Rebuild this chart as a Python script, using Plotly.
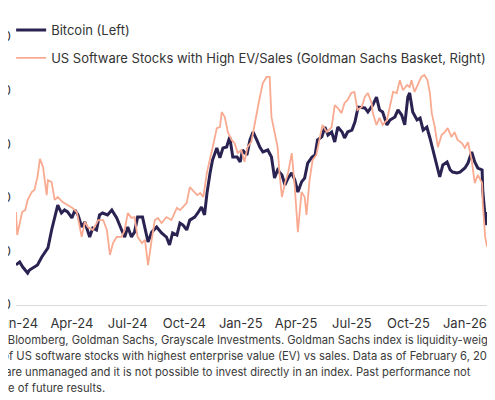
import plotly.graph_objects as go

# Bitcoin price (USD), left axis
btc_dates = [
    "2024-01-01", "2024-01-07", "2024-01-12", "2024-01-20", "2024-01-23", "2024-01-31",
    "2024-02-05", "2024-02-12", "2024-02-17", "2024-02-22", "2024-02-28", "2024-03-04",
    "2024-03-09", "2024-03-15", "2024-03-20", "2024-03-25", "2024-04-01", "2024-04-06",
    "2024-04-11", "2024-04-17", "2024-04-22", "2024-04-30", "2024-05-05", "2024-05-11",
    "2024-05-16", "2024-05-21", "2024-05-29", "2024-06-05", "2024-06-13", "2024-06-21",
    "2024-06-26", "2024-07-01", "2024-07-07", "2024-07-12", "2024-07-17", "2024-07-25",
    "2024-08-03", "2024-08-09", "2024-08-17", "2024-08-25", "2024-09-02", "2024-09-07",
    "2024-09-12", "2024-09-19", "2024-09-24", "2024-09-29", "2024-10-05", "2024-10-10",
    "2024-10-18", "2024-10-23", "2024-10-29", "2024-11-03", "2024-11-07", "2024-11-12",
    "2024-11-16", "2024-11-23", "2024-11-28", "2024-12-03", "2024-12-09", "2024-12-14",
    "2024-12-19", "2024-12-26", "2024-12-31", "2025-01-04", "2025-01-11", "2025-01-16",
    "2025-01-21", "2025-01-27", "2025-02-01", "2025-02-06", "2025-02-14", "2025-02-20",
    "2025-02-25", "2025-03-02", "2025-03-09", "2025-03-14", "2025-03-19", "2025-03-25",
    "2025-03-30", "2025-04-04", "2025-04-10", "2025-04-15", "2025-04-20", "2025-04-27",
    "2025-05-02", "2025-05-06", "2025-05-13", "2025-05-18", "2025-05-23", "2025-05-29",
    "2025-06-03", "2025-06-08", "2025-06-15", "2025-06-19", "2025-06-24", "2025-07-01",
    "2025-07-06", "2025-07-11", "2025-07-17", "2025-07-22", "2025-07-27", "2025-08-02",
    "2025-08-04", "2025-08-10", "2025-08-15", "2025-08-20", "2025-08-27", "2025-09-01",
    "2025-09-09", "2025-09-14", "2025-09-20", "2025-09-25", "2025-09-30", "2025-10-03",
    "2025-10-08", "2025-10-15", "2025-10-20", "2025-10-25", "2025-10-31", "2025-11-05",
    "2025-11-10", "2025-11-16", "2025-11-21", "2025-11-26", "2025-12-03", "2025-12-08",
    "2025-12-12", "2025-12-19", "2025-12-24", "2026-01-01", "2026-01-06", "2026-01-12",
    "2026-01-17", "2026-01-22", "2026-01-29", "2026-01-30", "2026-02-02", "2026-02-04",
    "2026-02-06",
]
btc_k = [
    43.7, 45.1, 42.7, 39.9, 41.3, 42.7, 43.7, 47.4, 49.7, 51.6, 60.0, 65.6,
    71.6, 67.9, 69.3, 68.4, 65.6, 69.3, 67.0, 61.4, 63.7, 56.7, 60.9, 60.0,
    67.0, 67.9, 67.0, 69.3, 65.6, 60.0, 56.7, 61.4, 56.7, 59.0, 66.0, 66.0,
    54.4, 59.0, 61.4, 58.6, 56.7, 53.0, 58.6, 57.6, 63.2, 62.3, 60.0, 64.6,
    66.0, 67.9, 70.7, 67.0, 77.2, 86.6, 92.6, 98.2, 93.6, 98.2, 98.7, 103.4,
    94.0, 94.0, 91.7, 97.3, 95.0, 102.0, 105.7, 102.0, 98.7, 96.4, 97.3, 94.0,
    84.2, 88.0, 85.6, 81.0, 84.2, 86.6, 83.3, 77.7, 82.4, 84.2, 91.2, 94.0,
    95.0, 102.0, 103.4, 108.0, 104.3, 105.7, 101.0, 108.0, 105.7, 102.9, 105.7, 106.6,
    110.4, 117.3, 116.9, 116.9, 115.0, 117.3, 118.3, 122.0, 116.0, 115.0, 109.0, 111.3,
    112.7, 116.0, 113.6, 109.0, 122.0, 123.9, 115.0, 111.3, 112.2, 106.6, 108.0, 102.9,
    97.3, 91.2, 84.7, 90.3, 91.7, 88.0, 87.0, 86.6, 87.0, 88.9, 91.2, 96.4,
    91.7, 88.9, 88.0, 78.6, 70.7, 62.3, 68.4,
]
btc = [v * 1000 for v in btc_k]

# Goldman Sachs high EV/Sales software basket, right axis
gs_dates = [
    "2024-01-01", "2024-01-03", "2024-01-11", "2024-01-16", "2024-01-20", "2024-01-27",
    "2024-01-31", "2024-02-05", "2024-02-09", "2024-02-14", "2024-02-20", "2024-02-22",
    "2024-02-28", "2024-03-04", "2024-03-09", "2024-03-17", "2024-03-25", "2024-04-02",
    "2024-04-09", "2024-04-17", "2024-04-22", "2024-04-27", "2024-05-05", "2024-05-14",
    "2024-05-22", "2024-05-28", "2024-06-02", "2024-06-07", "2024-06-13", "2024-06-21",
    "2024-06-26", "2024-07-01", "2024-07-07", "2024-07-12", "2024-07-17", "2024-07-24",
    "2024-07-29", "2024-08-03", "2024-08-09", "2024-08-14", "2024-08-19", "2024-08-25",
    "2024-09-02", "2024-09-10", "2024-09-19", "2024-09-24", "2024-09-29", "2024-10-05",
    "2024-10-10", "2024-10-15", "2024-10-22", "2024-10-27", "2024-11-01", "2024-11-07",
    "2024-11-12", "2024-11-16", "2024-11-23", "2024-11-28", "2024-12-01", "2024-12-06",
    "2024-12-11", "2024-12-17", "2024-12-22", "2024-12-27", "2025-01-02", "2025-01-07",
    "2025-01-12", "2025-01-18", "2025-01-21", "2025-01-27", "2025-02-01", "2025-02-06",
    "2025-02-12", "2025-02-17", "2025-02-20", "2025-02-25", "2025-03-02", "2025-03-05",
    "2025-03-09", "2025-03-14", "2025-03-19", "2025-03-25", "2025-03-30", "2025-04-04",
    "2025-04-10", "2025-04-15", "2025-04-18", "2025-04-23", "2025-04-28", "2025-05-04",
    "2025-05-09", "2025-05-14", "2025-05-21", "2025-05-29", "2025-06-03", "2025-06-08",
    "2025-06-14", "2025-06-19", "2025-06-24", "2025-06-30", "2025-07-05", "2025-07-10",
    "2025-07-17", "2025-07-22", "2025-07-27", "2025-08-02", "2025-08-04", "2025-08-10",
    "2025-08-15", "2025-08-20", "2025-08-27", "2025-09-01", "2025-09-06", "2025-09-12",
    "2025-09-17", "2025-09-22", "2025-09-29", "2025-10-03", "2025-10-06", "2025-10-11",
    "2025-10-16", "2025-10-22", "2025-10-27", "2025-11-01", "2025-11-05", "2025-11-08",
    "2025-11-13", "2025-11-18", "2025-11-24", "2025-11-29", "2025-12-04", "2025-12-10",
    "2025-12-15", "2025-12-20", "2025-12-27", "2026-01-01", "2026-01-06", "2026-01-12",
    "2026-01-17", "2026-01-22", "2026-01-29", "2026-01-30", "2026-02-03", "2026-02-06",
]
gs_basket = [
    74.7, 66.1, 74.7, 75.4, 79.2, 82.2, 82.9, 87.8, 94.5, 91.5, 81.0, 86.6,
    85.9, 79.2, 80.3, 78.4, 77.3, 76.2, 74.7, 65.4, 71.0, 69.1, 68.0, 71.7,
    71.7, 68.0, 58.7, 63.1, 65.4, 65.4, 68.0, 74.3, 72.5, 72.8, 65.4, 63.1,
    64.3, 54.9, 64.3, 71.7, 72.5, 70.6, 72.8, 71.7, 76.2, 75.4, 76.6, 78.1,
    84.0, 82.9, 81.0, 81.8, 80.3, 89.6, 95.2, 98.6, 106.0, 106.4, 112.0, 110.1,
    104.5, 101.6, 100.4, 96.7, 97.8, 93.4, 98.9, 100.8, 104.2, 112.0, 117.6, 122.8,
    125.1, 125.1, 110.1, 104.5, 98.9, 89.2, 80.3, 85.5, 89.2, 96.7, 84.0, 67.2,
    82.2, 80.3, 73.6, 86.6, 94.1, 96.0, 101.6, 107.2, 104.5, 106.4, 114.6, 113.5,
    111.6, 115.4, 116.5, 119.1, 119.5, 112.8, 113.9, 117.6, 119.1, 115.4, 111.6, 107.2,
    109.8, 107.2, 109.0, 113.9, 119.5, 119.1, 123.9, 120.2, 122.1, 121.3, 123.9, 119.5,
    122.1, 125.1, 125.8, 123.9, 119.1, 111.6, 106.4, 98.9, 103.4, 104.5, 106.0, 102.7,
    104.5, 101.6, 100.4, 98.6, 100.8, 94.1, 85.5, 88.5, 85.5, 78.1, 65.4, 61.7,
]

footer_lines = [
    "Source: Bloomberg, Goldman Sachs, Grayscale Investments. Goldman Sachs index is liquidity-weighted",
    "basket of US software stocks with highest enterprise value (EV) vs sales. Data as of February 6, 2026.",
    "Indices are unmanaged and it is not possible to invest directly in an index. Past performance not",
    "indicative of future results.",
]

NAVY = "#2a2352"
SALMON = "#f9aa90"
FONT = "Inter"

fig = go.Figure()
fig.add_trace(go.Scatter(
    x=btc_dates, y=btc, name="Bitcoin (Left)", mode="lines",
    line=dict(color=NAVY, width=3), legendgroup="a",
))
fig.add_trace(go.Scatter(
    x=gs_dates, y=gs_basket, name="US Software Stocks with High EV/Sales (Goldman Sachs Basket, Right)",
    mode="lines", line=dict(color=SALMON, width=1.8), yaxis="y2", legendgroup="b",
))

# source note, partly cut at the left edge like the original crop
for i, line in enumerate(footer_lines):
    fig.add_annotation(
        text=line, xref="paper", yref="paper", x=-0.111, y=-0.13 - i * 0.06,
        xanchor="left", yanchor="middle", showarrow=False, align="left",
        font=dict(family=FONT, size=11.2, color="#3a3a3a"),
    )

fig.update_layout(
    width=495, height=400,
    template="none",
    margin=dict(l=8, r=0, t=29, b=103),
    paper_bgcolor="white", plot_bgcolor="white",
    font=dict(family=FONT, size=12, color="#333333"),
    showlegend=True,
    legend=dict(
        x=-0.01, y=1.082, xanchor="left", yanchor="top",
        bgcolor="rgba(0,0,0,0)", font=dict(size=13, color="#333333"),
        tracegroupgap=8,
    ),
    xaxis=dict(
        type="date", range=["2024-01-01", "2026-03-04"],
        tick0="2024-01-01", dtick="M3", tickformat="%b-%y",
        showgrid=False, zeroline=False, showline=True, linecolor="#d9d9d9", linewidth=1,
        ticks="", ticklabelstandoff=6, ticklabeloverflow="allow", automargin=False,
        tickfont=dict(size=13, color="#333333"),
    ),
    yaxis=dict(
        range=[25000, 150000], dtick=25000, tickformat=",",
        showgrid=False, zeroline=False, showline=False, ticks="",
        ticklabelstandoff=4, ticklabeloverflow="allow", automargin=False,
        tickfont=dict(size=12.5, color="#333333"),
    ),
    yaxis2=dict(
        range=[40, 140], overlaying="y", side="right",
        showgrid=False, zeroline=False, showline=False, ticks="", automargin=False,
    ),
)

fig.write_html("out.html")
